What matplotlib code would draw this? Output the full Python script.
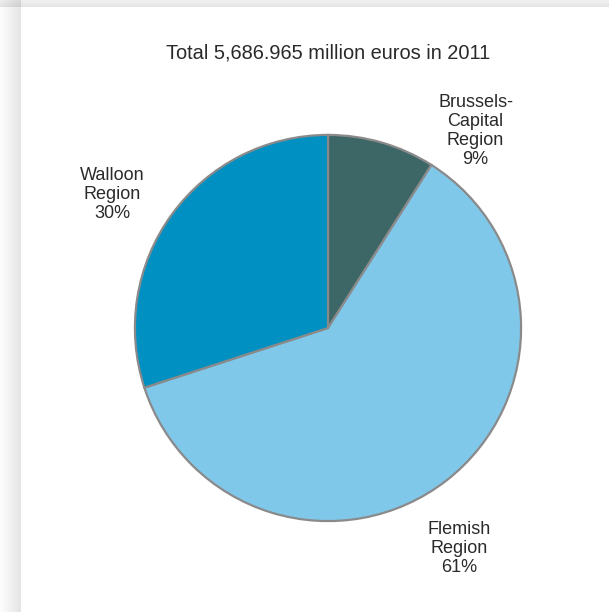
import numpy as np
import matplotlib.pyplot as plt
from matplotlib.patches import Rectangle

plt.rcParams['font.family'] = ['Liberation Sans', 'DejaVu Sans']

regions = ['Brussels-\nCapital\nRegion', 'Flemish\nRegion', 'Walloon\nRegion']
shares = [9, 61, 30]
colors = ['#3d6666', '#80c8ea', '#0090c2']
title = 'Total 5,686.965 million euros in 2011'

W, H = 609, 612
fig = plt.figure(figsize=(W / 100, H / 100), dpi=100)

# background panel with soft shadow at left and top
bg = fig.add_axes([0, 0, 1, 1])
bg.set_xlim(0, W)
bg.set_ylim(H, 0)
bg.axis('off')
for i in range(21):
    a = 0.01 * (i + 1)
    bg.add_patch(Rectangle((i, 0), 1, H, color='#808080', alpha=a, lw=0))
for j in range(7):
    bg.add_patch(Rectangle((0, j), W, 1, color='#808080', alpha=0.12 + 0.015 * j, lw=0))
bg.add_patch(Rectangle((21, 7), W, H, color='white', lw=0))

# pie
cx, cy, r = 328, 328, 195
ax = fig.add_axes([(cx - r) / W, 1 - (cy + r) / H, 2 * r / W, 2 * r / H])
wedges, _ = ax.pie(shares, colors=colors, startangle=90, counterclock=False,
                   radius=1, wedgeprops=dict(edgecolor='#8a8a8a', linewidth=1.6))
ax.set_xlim(-1.01, 1.01)
ax.set_ylim(-1.01, 1.01)
ax.set_aspect('equal')
ax.axis('off')

label_pos = [(0.764, 1.02), (0.677, -1.14), (-1.118, 0.69)]
for name, v, (lx, ly) in zip(regions, shares, label_pos):
    ax.text(lx, ly, f'{name}\n{v}%', ha='center', va='center', fontsize=13,
            color='#2a2a2a', linespacing=1.15, clip_on=False)

fig.text(cx / W, 1 - 53 / H, title, ha='center', va='center', fontsize=14.4, color='#2a2a2a')

fig.savefig('out.png', dpi=100)
